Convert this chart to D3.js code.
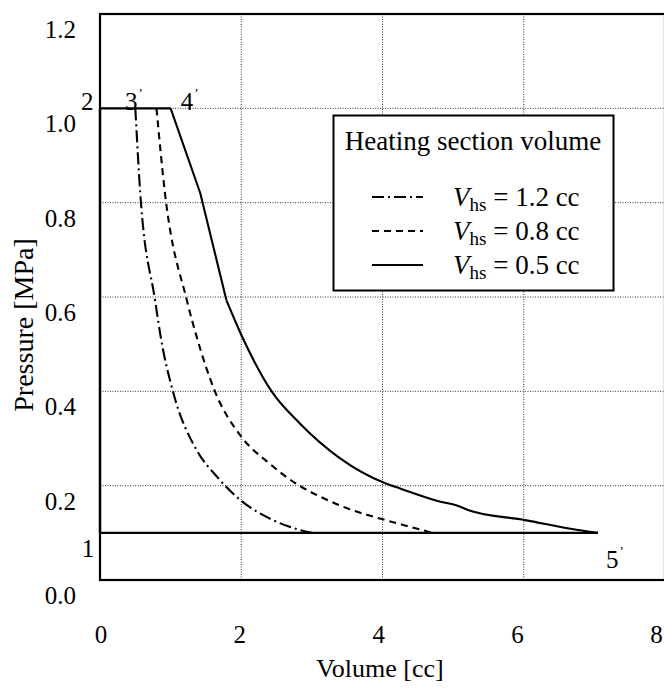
<!DOCTYPE html>
<html>
<head>
<meta charset="utf-8">
<script src="https://cdn.jsdelivr.net/npm/d3@7"></script>
<style>
  body { margin: 0; background: #fff; }
  svg text { font-family: "Liberation Serif", "DejaVu Serif", serif; fill: #000; }
</style>
</head>
<body>
<div id="chart"></div>
<script>
// volume [cc], pressure [MPa]
// common part of the cycle: 5' -> 1 -> 2 -> end of heating
let baseCycle = [[7.05, 0.1], [0, 0.1], [0, 1.0], [1.0, 1.0]];
let solidPts = [[1.0, 1.0], [1.42, 0.82], [1.79, 0.593], [2.0, 0.52], [2.43, 0.40],
  [2.83, 0.332], [3.40, 0.258], [4.04, 0.205], [4.25, 0.194], [4.82, 0.166], [5.03, 0.159],
  [5.22, 0.148], [6.02, 0.127], [6.77, 0.106], [7.05, 0.1]];
let dashedPts = [[0.8, 1.0], [0.92, 0.82], [1.23, 0.593], [1.37, 0.515], [1.63, 0.399], [2.0, 0.304],
  [2.4, 0.247], [2.79, 0.203], [3.1, 0.178], [3.5, 0.152], [4.04, 0.127], [4.56, 0.106], [4.7, 0.1]];
let dashDotPts = [[0.5, 1.0], [0.57, 0.82], [0.78, 0.593], [0.86, 0.515], [1.04, 0.396], [1.37, 0.275],
  [1.65, 0.22], [2.0, 0.168], [2.45, 0.127], [2.83, 0.106], [3.0, 0.1]];

let xTicks = [0, 2, 4, 6, 8];
let yTicks = [0.0, 0.2, 0.4, 0.6, 0.8, 1.0, 1.2];
let legendTitle = "Heating section volume";
let legendValues = ["1.2", "0.8", "0.5"];
let legendDash = ["12,4,2,4", "7,5", null];
let pointLabels = [
  { t: "2", prime: false, v: -0.18, p: 0.996 },
  { t: "3", prime: true, v: 0.48, p: 0.996 },
  { t: "4", prime: true, v: 1.27, p: 0.996 },
  { t: "1", prime: false, v: -0.17, p: 0.049 },
  { t: "5", prime: true, v: 7.29, p: 0.025 }
];

let W = 664, H = 689;
let margin = { top: 14, right: 0, bottom: 109, left: 100 };

let svg = d3.select("#chart").append("svg")
  .attr("width", W).attr("height", H);

let x = d3.scaleLinear().domain([0, 8]).range([margin.left, 665]);
let y = d3.scaleLinear().domain([0, 1.2]).range([H - margin.bottom, margin.top]);

// grid
svg.append("g").selectAll("line").data(xTicks.slice(1, -1)).enter().append("line")
  .attr("x1", d => x(d)).attr("x2", d => x(d))
  .attr("y1", y(0)).attr("y2", y(1.2))
  .attr("stroke", "#000").attr("stroke-width", 0.8).attr("stroke-dasharray", "1,1.5");
svg.append("g").selectAll("line").data(yTicks.slice(1, -1)).enter().append("line")
  .attr("x1", x(0)).attr("x2", x(8))
  .attr("y1", d => y(d)).attr("y2", d => y(d))
  .attr("stroke", "#000").attr("stroke-width", 0.8).attr("stroke-dasharray", "1,1.5");

// frame
svg.append("rect")
  .attr("x", x(0)).attr("y", y(1.2))
  .attr("width", x(8) - x(0)).attr("height", y(0) - y(1.2))
  .attr("fill", "none").attr("stroke", "#000").attr("stroke-width", 2.2);

// tick labels (they sit a bit below / left of their grid lines in the original)
svg.append("g").selectAll("text").data(yTicks).enter().append("text")
  .attr("x", 76).attr("y", d => y(d) + 24)
  .attr("text-anchor", "end").attr("font-size", 25)
  .text(d => d.toFixed(1));
svg.append("g").selectAll("text").data(xTicks).enter().append("text")
  .attr("x", d => x(d) + 1 - d * 1.2).attr("y", 643)
  .attr("text-anchor", "middle").attr("font-size", 25)
  .text(d => d);

svg.append("text").attr("x", 380).attr("y", 677)
  .attr("text-anchor", "middle").attr("font-size", 26).text("Volume [cc]");
svg.append("text").attr("transform", "translate(33,325) rotate(-90)")
  .attr("text-anchor", "middle").attr("font-size", 28).text("Pressure [MPa]");

// curves
let lineLin = d3.line().x(d => x(d[0])).y(d => y(d[1]));
let lineSmooth = d3.line().curve(d3.curveMonotoneX).x(d => x(d[0])).y(d => y(d[1]));

let curves = svg.append("g")
  .attr("fill", "none").attr("stroke", "#000")
  .attr("stroke-width", 2.1).attr("stroke-linejoin", "round");

curves.append("path").attr("d", lineLin(baseCycle)).attr("stroke-width", 2.4);
// solid: straight to the knee at 1.79 cc, smooth expansion after
curves.append("path").attr("d", lineLin(solidPts.slice(0, 3)));
curves.append("path").attr("d", lineSmooth(solidPts.slice(2)));
curves.append("path").attr("d", lineSmooth(dashedPts)).attr("stroke-dasharray", legendDash[1]);
curves.append("path").attr("d", lineSmooth(dashDotPts)).attr("stroke-dasharray", legendDash[0]);

// point labels
let pl = svg.append("g").selectAll("text").data(pointLabels).enter().append("text")
  .attr("x", d => x(d.v)).attr("y", d => y(d.p))
  .attr("text-anchor", "middle").attr("font-size", 25)
  .text(d => d.t);
pl.filter(d => d.prime).append("tspan")
  .attr("font-size", 13).attr("dy", -13).attr("dx", 1).text("’");

// legend
let lg = svg.append("g");
lg.append("rect").attr("x", 333.5).attr("y", 115.5).attr("width", 280).attr("height", 175)
  .attr("fill", "#fff").attr("stroke", "#000").attr("stroke-width", 2);
lg.append("text").attr("x", 473).attr("y", 150).attr("text-anchor", "middle")
  .attr("font-size", 27).text(legendTitle);
let rows = lg.selectAll("g.row").data(legendValues).enter().append("g")
  .attr("class", "row")
  .attr("transform", (d, i) => "translate(0," + (197 + i * 34) + ")");
rows.append("line").attr("x1", 372).attr("x2", 423).attr("y1", 0).attr("y2", 0)
  .attr("stroke", "#000").attr("stroke-width", 2)
  .attr("stroke-dasharray", (d, i) => legendDash[i]);
let lt = rows.append("text").attr("x", 453).attr("y", 9).attr("font-size", 27);
lt.append("tspan").attr("font-style", "italic").text("V");
lt.append("tspan").attr("font-size", 19).attr("dy", 5).text("hs");
lt.append("tspan").attr("dy", -5).text(d => " = " + d + " cc");
</script>
</body>
</html>
